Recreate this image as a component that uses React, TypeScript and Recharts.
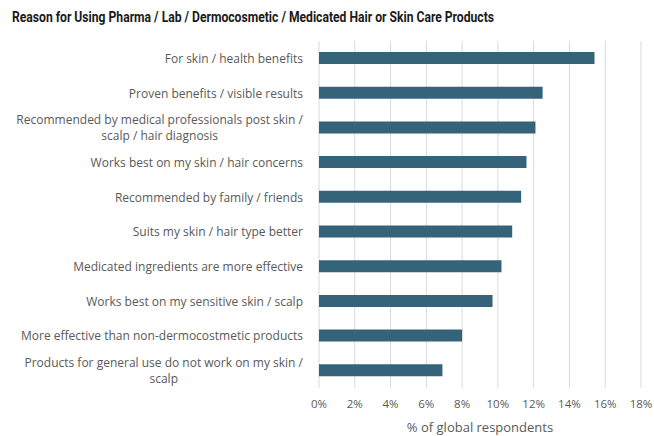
import React from 'react';
import { BarChart, Bar, XAxis, YAxis, CartesianGrid } from 'recharts';

const categories = [
  'For skin / health benefits',
  'Proven benefits / visible results',
  'Recommended by medical professionals post skin /\nscalp / hair diagnosis',
  'Works best on my skin / hair concerns',
  'Recommended by family / friends',
  'Suits my skin / hair type better',
  'Medicated ingredients are more effective',
  'Works best on my sensitive skin / scalp',
  'More effective than non-dermocostmetic products',
  'Products for general use do not work on my skin /\nscalp',
];
const values = [15.4, 12.5, 12.1, 11.6, 11.3, 10.8, 10.2, 9.7, 8.0, 6.9];
const xTicks = [0, 2, 4, 6, 8, 10, 12, 14, 16, 18];
const titleText = 'Reason for Using Pharma / Lab / Dermocosmetic / Medicated Hair or Skin Care Products';
const axisTitle = '% of global respondents';

const data = categories.map((c, i) => ({ name: c, value: values[i] }));

const LABEL_FONT = '12px "Open Sans"';
let ctx: CanvasRenderingContext2D | null = null;
function measure(t: string): number {
  if (!ctx) {
    const c = document.createElement('canvas');
    ctx = c.getContext('2d');
  }
  if (!ctx) return t.length * 6;
  ctx.font = LABEL_FONT;
  return ctx.measureText(t).width;
}

const CatTick = (props: any) => {
  const { x, y, payload } = props;
  const lines: string[] = String(payload.value).split('\n');
  const right = x - 16;
  const w = Math.max(...lines.map(measure));
  const cx = right - w / 2;
  const lh = 16;
  const start = y - ((lines.length - 1) * lh) / 2;
  return (
    <g>
      {lines.map((l, i) => (
        <text
          key={i}
          x={cx}
          y={start + i * lh}
          textAnchor="middle"
          dominantBaseline="central"
          fill="#595959"
          style={{ font: LABEL_FONT }}
        >
          {l}
        </text>
      ))}
    </g>
  );
};

export default function App() {
  return (
    <div style={{ position: 'absolute', left: 0, top: 0, width: 654, height: 436, background: '#ffffff' }}>
      <svg width={654} height={30} style={{ position: 'absolute', left: 0, top: 0 }}>
        <text
          x={12}
          y={17}
          dominantBaseline="central"
          textLength={482}
          lengthAdjust="spacingAndGlyphs"
          fill="#1a1a1a"
          style={{ fontFamily: 'Roboto', fontWeight: 700, fontSize: 14.5 }}
        >
          {titleText}
        </text>
      </svg>
      <div style={{ position: 'absolute', left: 0, top: 0 }}>
        <BarChart
          width={654}
          height={436}
          data={data}
          layout="vertical"
          margin={{ top: 41, right: 13, bottom: 0, left: 0 }}
          barCategoryGap={0}
        >
          <CartesianGrid horizontal={false} vertical={true} stroke="#d9d9d9" />
          <XAxis
            type="number"
            domain={[0, 18]}
            ticks={xTicks}
            interval={0}
            tickFormatter={(v: number) => `${v}%`}
            axisLine={false}
            tickLine={false}
            tickSize={0}
            tickMargin={12}
            height={48}
            tick={{ fill: '#595959', fontSize: 11.5, fontFamily: 'Open Sans' }}
            label={{
              value: axisTitle,
              position: 'insideBottom',
              offset: 4,
              fill: '#595959',
              fontSize: 13,
              fontFamily: 'Open Sans',
            }}
          />
          <YAxis
            type="category"
            dataKey="name"
            width={319}
            axisLine={false}
            tickLine={false}
            tickSize={0}
            tickMargin={0}
            interval={0}
            tick={<CatTick />}
          />
          <Bar dataKey="value" fill="#35637a" barSize={12} isAnimationActive={false} />
        </BarChart>
      </div>
    </div>
  );
}
